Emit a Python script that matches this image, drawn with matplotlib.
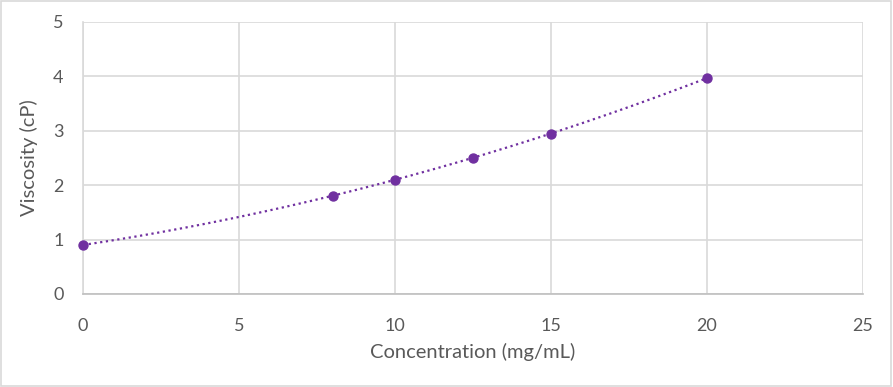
import numpy as np
import matplotlib.pyplot as plt

plt.rcParams['font.family'] = ['Lato', 'DejaVu Sans']

# measured points
conc = [0, 8, 10, 12.5, 15, 20]
visc = [0.9, 1.81, 2.1, 2.5, 2.95, 3.97]
x_ticks = [0, 5, 10, 15, 20, 25]
y_ticks = [0, 1, 2, 3, 4, 5]

purple = '#7030A0'
grey_txt = '#595959'
grid_c = '#D9D9D9'

fig = plt.figure(figsize=(8.93, 3.87), dpi=100)
ax = fig.add_axes([83 / 893, 1 - 294 / 387, 780 / 893, 272 / 387])

# polynomial trendline (order 2), like Excel
coef = np.polyfit(conc, visc, 2)
xs = np.linspace(min(conc), max(conc), 200)
ax.plot(xs, np.polyval(coef, xs), color=purple, lw=1.6, ls=(0, (1, 1.6)), zorder=2)
ax.scatter(conc, visc, s=42, color=purple, zorder=3, clip_on=False)

ax.set_xlim(0, 25)
ax.set_ylim(0, 5)
ax.set_xticks(x_ticks)
ax.set_yticks(y_ticks)
ax.grid(True, color=grid_c, lw=1.2)
ax.set_axisbelow(True)
for s in ['top', 'right']:
    ax.spines[s].set_visible(False)
ax.spines['left'].set_color(grid_c)
ax.spines['left'].set_linewidth(1.2)
ax.spines['bottom'].set_color('#BFBFBF')
ax.spines['bottom'].set_linewidth(1.2)
ax.tick_params(length=0, labelsize=13, colors=grey_txt)
ax.tick_params(axis='x', pad=17)
ax.tick_params(axis='y', pad=14)

ax.set_xlabel('Concentration (mg/mL)', fontsize=14.5, color=grey_txt, labelpad=7)
ax.set_ylabel('Viscosity (cP)', fontsize=14.5, color=grey_txt, labelpad=11)

# outer chart border
fig.patches.append(plt.Rectangle((0.001, 0.002), 0.997, 0.995, transform=fig.transFigure,
                                 fill=False, edgecolor='#D9D9D9', lw=1.2))

fig.savefig('out.png', dpi=100)
